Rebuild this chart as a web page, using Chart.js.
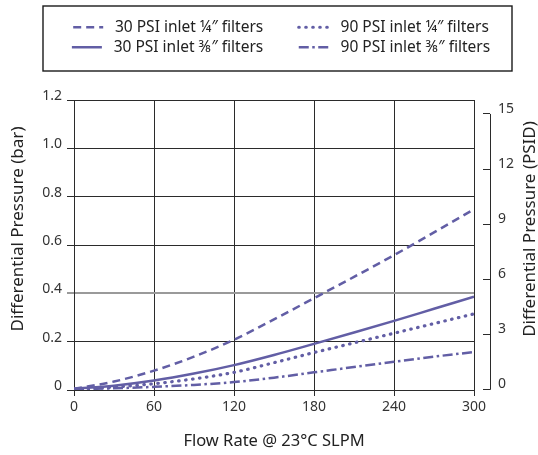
<!DOCTYPE html>
<html><head><meta charset="utf-8">
<script src="https://cdn.jsdelivr.net/npm/chart.js@4.4.1/dist/chart.umd.min.js"></script>
<style>html,body{margin:0;padding:0;background:#fff}#wrap{width:538px;height:455px;position:relative}</style>
</head><body><div id="wrap"><canvas id="c"></canvas></div>
<script>
// ---- data ----
const flowRates = [0, 30, 60, 90, 120, 150, 180, 210, 240, 270, 300];
const psi30Quarter = [0.005, 0.035, 0.08, 0.138, 0.208, 0.292, 0.38, 0.468, 0.558, 0.652, 0.748];
const psi30ThreeEighths = [0.005, 0.018, 0.039, 0.068, 0.103, 0.145, 0.191, 0.238, 0.286, 0.336, 0.386];
const psi90Quarter = [0.004, 0.012, 0.026, 0.046, 0.073, 0.113, 0.155, 0.195, 0.235, 0.275, 0.315];
const psi90ThreeEighths = [0.003, 0.007, 0.013, 0.021, 0.033, 0.051, 0.073, 0.095, 0.117, 0.138, 0.157];
const seriesLabels = ['30 PSI inlet ¼″ filters', '30 PSI inlet ⅜″ filters', '90 PSI inlet ¼″ filters', '90 PSI inlet ⅜″ filters'];
const flowTicks = [0, 60, 120, 180, 240, 300];
const barTicks = [0, 0.2, 0.4, 0.6, 0.8, 1.0, 1.2];
const psidTicks = [0, 3, 6, 9, 12, 15];
const xTitle = 'Flow Rate @ 23°C SLPM';
const yTitle = 'Differential Pressure (bar)';
const y2Title = 'Differential Pressure (PSID)';

// ---- style ----
const FONT = '"Noto Sans", "Open Sans", sans-serif';
const LINE = '#625ea5';
const GRID = '#2b2b2b';
const TEXT = '#222';
const legendOrder = [0, 2, 1, 3];

function pts(values) { return flowRates.map((x, i) => ({x: x, y: values[i]})); }

const styles = [
  {borderDash: [8, 5], borderCapStyle: 'butt', borderWidth: 2.5},
  {borderDash: [], borderCapStyle: 'butt', borderWidth: 2.5},
  {borderDash: [0.5, 6.5], borderCapStyle: 'round', borderWidth: 3.2},
  {borderDash: [10, 3.5, 2.5, 3.5], borderCapStyle: 'butt', borderWidth: 2.5}
];
const seriesValues = [psi30Quarter, psi30ThreeEighths, psi90Quarter, psi90ThreeEighths];

const datasets = seriesValues.map((vals, i) => Object.assign({
  label: seriesLabels[i],
  data: pts(vals),
  borderColor: LINE,
  backgroundColor: LINE,
  fill: false,
  pointRadius: 0,
  pointHoverRadius: 0,
  cubicInterpolationMode: 'monotone',
  yAxisID: 'y'
}, styles[i]));

const legendSpacer = {
  id: 'legendSpacer',
  beforeInit(chart) {
    const orig = chart.legend.fit;
    chart.legend.fit = function () {
      orig.bind(chart.legend)();
      this.height = 85;
    };
  }
};

function drawVTitle(ctx, text, x, y, size) {
  ctx.save();
  ctx.fillStyle = TEXT;
  ctx.font = size + 'px ' + FONT;
  ctx.textAlign = 'center';
  ctx.textBaseline = 'middle';
  ctx.translate(x, y);
  ctx.rotate(-Math.PI / 2);
  ctx.fillText(text, 0, 0);
  ctx.restore();
}

const decorations = {
  id: 'decorations',
  afterDraw(chart) {
    const ctx = chart.ctx;
    const lg = chart.legend;
    const area = chart.chartArea;
    // legend frame
    ctx.save();
    ctx.strokeStyle = '#1a1a1a';
    ctx.lineWidth = 1.4;
    ctx.strokeRect(lg.left + 19, lg.top - 9, (lg.right - 26) - (lg.left + 19), 65);
    ctx.restore();
    // right axis line
    const s = chart.scales.y2;
    const xLine = Math.round(s.left + 7) + 0.5;
    ctx.save();
    ctx.strokeStyle = GRID;
    ctx.lineWidth = 1;
    ctx.beginPath();
    ctx.moveTo(xLine, s.getPixelForValue(15));
    ctx.lineTo(xLine, s.getPixelForValue(0) + 0.5);
    ctx.stroke();
    ctx.restore();
    // axis titles (both read bottom-to-top)
    const midY = (area.top + area.bottom) / 2 - 16;
    drawVTitle(ctx, yTitle, 18, midY, 17);
    drawVTitle(ctx, y2Title, s.right - 8, midY, 17);
  }
};

new Chart(document.getElementById('c'), {
  type: 'line',
  data: {datasets: datasets},
  plugins: [legendSpacer, decorations],
  options: {
    responsive: true,
    maintainAspectRatio: false,
    animation: false,
    events: [],
    layout: {padding: {top: 15, left: 24, right: 0, bottom: 0}},
    plugins: {
      tooltip: {enabled: false},
      legend: {
        position: 'top',
        align: 'center',
        labels: {
          font: {family: FONT, size: 15.5},
          color: TEXT,
          usePointStyle: true,
          pointStyleWidth: 30,
          padding: 4.5,
          sort: (a, b) => legendOrder.indexOf(a.datasetIndex) - legendOrder.indexOf(b.datasetIndex),
          generateLabels(chart) {
            return chart.data.datasets.map((ds, i) => ({
              text: ' ' + ds.label + (i < 2 ? '\u2003\u2003' : ''),
              fillStyle: LINE,
              strokeStyle: LINE,
              fontColor: TEXT,
              lineWidth: ds.borderWidth,
              lineDash: ds.borderDash,
              lineCap: ds.borderCapStyle,
              pointStyle: 'line',
              hidden: false,
              datasetIndex: i
            }));
          }
        }
      }
    },
    scales: {
      x: {
        type: 'linear',
        min: 0, max: 300,
        afterBuildTicks: s => { s.ticks = flowTicks.map(v => ({value: v})); },
        afterFit: s => { s.height = 65; },
        grid: {color: GRID, lineWidth: 1, tickLength: 6},
        border: {color: GRID, width: 1},
        ticks: {color: '#333', font: {family: FONT, size: 14}, padding: 3, maxRotation: 0},
        title: {display: true, text: xTitle, color: TEXT, font: {family: FONT, size: 16.5}, padding: {top: 0, bottom: 4}}
      },
      y: {
        type: 'linear',
        position: 'left',
        min: 0, max: 1.2,
        afterBuildTicks: s => { s.ticks = barTicks.map(v => ({value: v})); },
        afterFit: s => { s.width = 50; },
        grid: {
          color: c => (c.tick && c.tick.value === 0.4) ? '#9a9a9a' : GRID,
          lineWidth: c => (c.tick && c.tick.value === 0.4) ? 2 : 1,
          tickLength: 7
        },
        border: {color: GRID, width: 1},
        ticks: {
          color: '#333', font: {family: FONT, size: 14}, padding: 5, labelOffset: -4,
          callback: v => v === 0 ? '0' : v.toFixed(1)
        },
        title: {display: false}
      },
      yPad: {
        type: 'linear',
        position: 'right',
        weight: 0,
        display: true,
        grid: {display: false, drawTicks: false},
        border: {display: false},
        ticks: {display: false},
        afterFit: s => { s.width = 9; }
      },
      y2: {
        type: 'linear',
        position: 'right',
        weight: 1,
        min: -0.04, max: 15.76,
        afterBuildTicks: s => { s.ticks = psidTicks.map(v => ({value: v})); },
        afterFit: s => { s.width = 55; },
        grid: {drawOnChartArea: false, color: GRID, lineWidth: 1, tickLength: 7},
        border: {display: false},
        ticks: {color: '#333', font: {family: FONT, size: 14}, padding: 8, labelOffset: -5},
        title: {display: false}
      }
    }
  }
});
</script>
</body></html>
